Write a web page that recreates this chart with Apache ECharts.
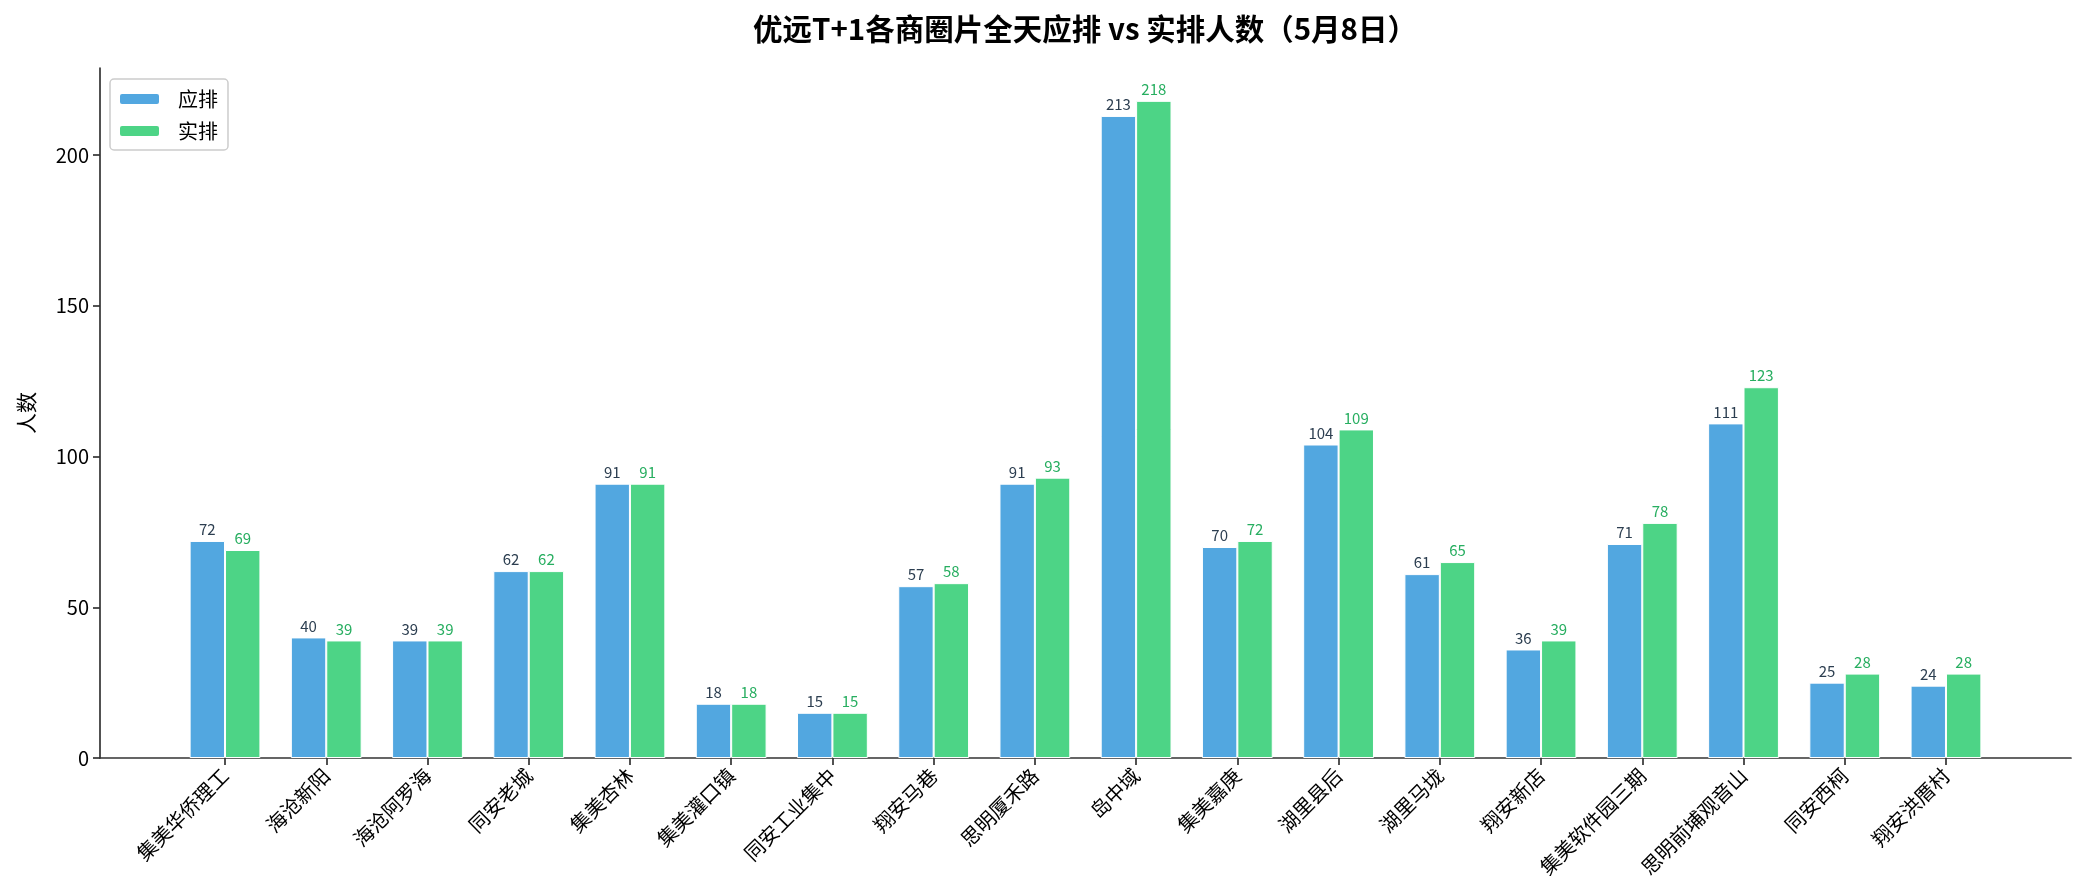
<!DOCTYPE html>
<html>
<head>
<meta charset="utf-8">
<script src="https://cdn.jsdelivr.net/npm/echarts@6/dist/echarts.min.js"></script>
<style>
html,body{margin:0;padding:0;background:#fff;}
#chart{width:2086px;height:883px;}
</style>
</head>
<body>
<div id="chart"></div>
<script>
const categories = ['集美华侨理工','海沧新阳','海沧阿罗海','同安老城','集美杏林','集美灌口镇','同安工业集中','翔安马巷','思明厦禾路','岛中域','集美嘉庚','湖里县后','湖里马垅','翔安新店','集美软件园三期','思明前埔观音山','同安西柯','翔安洪厝村'];
const planned = [72,40,39,62,91,18,15,57,91,213,70,104,61,36,71,111,25,24];
const actual = [69,39,39,62,91,18,15,58,93,218,72,109,65,39,78,123,28,28];
const yTicks = [0,50,100,150,200];
const seriesNames = ['应排','实排'];

const FONT = '"Noto Sans CJK SC", "Noto Sans", sans-serif';
const idx = categories.map((c,i)=>i);
const chart = echarts.init(document.getElementById('chart'));
chart.setOption({
  animation:false,
  backgroundColor:'#ffffff',
  textStyle:{fontFamily:FONT},
  title:{
    text:'优远T+1各商圈片全天应排 vs 实排人数（5月8日）',
    left:1085, top:14, textAlign:'center', padding:0,
    textStyle:{fontFamily:FONT,fontSize:29.5,fontWeight:'bold',color:'#000'}
  },
  legend:{
    left:110, top:79, orient:'vertical',
    padding:[10,10,9,8],
    borderColor:'#cccccc', borderWidth:1.5, borderRadius:4,
    itemWidth:41, itemHeight:12, itemGap:12,
    textStyle:{fontFamily:FONT,fontSize:20,color:'#000',lineHeight:20,padding:[0,0,0,13]},
    data:seriesNames
  },
  grid:{left:100,right:15,top:68,bottom:125,containLabel:false},
  xAxis:{
    type:'value', min:-1.235, max:18.235,
    axisLine:{show:true,onZero:false,lineStyle:{color:'#333',width:1.7}},
    axisTick:{show:true,length:7,customValues:idx,lineStyle:{color:'#333',width:1.7}},
    splitLine:{show:false},
    axisLabel:{customValues:idx,rotate:45,margin:14,fontSize:20,color:'#000',fontFamily:FONT,
      formatter:function(v){return categories[Math.round(v)]||'';}}
  },
  yAxis:{
    type:'value', min:0, max:228.9,
    name:'人数', nameLocation:'middle', nameGap:63, nameRotate:90,
    nameTextStyle:{fontFamily:FONT,fontSize:21,color:'#000'},
    axisLine:{show:true,onZero:false,lineStyle:{color:'#333',width:1.7}},
    axisTick:{show:true,length:7,customValues:yTicks,lineStyle:{color:'#333',width:1.7}},
    splitLine:{show:false},
    axisLabel:{customValues:yTicks,margin:11,fontSize:20,color:'#000',fontFamily:FONT}
  },
  series:[
    {
      name:seriesNames[0], type:'bar', barWidth:35.4, barGap:'0%',
      data:planned.map((v,i)=>[i,v]),
      itemStyle:{color:'rgba(52,152,219,0.85)',borderColor:'#fff',borderWidth:1},
      label:{show:true,position:'top',distance:4,fontSize:15,color:'#2c3e50',fontFamily:FONT,
        formatter:p=>p.value[1]}
    },
    {
      name:seriesNames[1], type:'bar', barWidth:35.4, barGap:'0%',
      data:actual.map((v,i)=>[i,v]),
      itemStyle:{color:'rgba(46,204,113,0.85)',borderColor:'#fff',borderWidth:1},
      label:{show:true,position:'top',distance:4,fontSize:15,color:'#27ae60',fontFamily:FONT,
        formatter:p=>p.value[1]}
    }
  ]
});
</script>
</body>
</html>
